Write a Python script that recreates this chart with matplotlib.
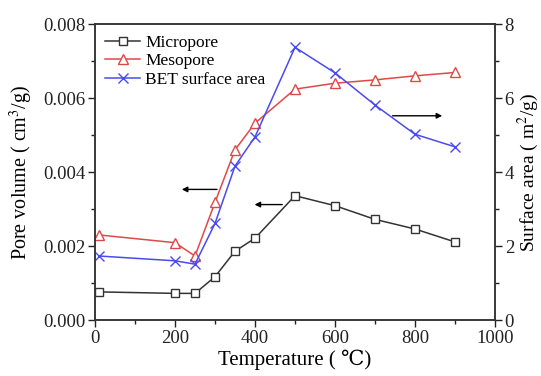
import matplotlib
matplotlib.use("Agg")
import matplotlib.pyplot as plt
from matplotlib.ticker import MultipleLocator

plt.rcParams['font.family'] = ['Liberation Serif', 'DejaVu Serif']
plt.rcParams['mathtext.fontset'] = 'stix'

temps = [10, 200, 250, 300, 350, 400, 500, 600, 700, 800, 900]
micropore = [0.00076, 0.00072, 0.00072, 0.00117, 0.00186, 0.00221, 0.00336, 0.00309, 0.00272, 0.00246, 0.00211]
mesopore = [0.00230, 0.00209, 0.00173, 0.00318, 0.00460, 0.00532, 0.00624, 0.00640, 0.00649, 0.00660, 0.00669]
bet = [1.73, 1.60, 1.51, 2.61, 4.16, 4.95, 7.37, 6.68, 5.81, 5.02, 4.68]

fig = plt.figure(figsize=(5.41, 3.76), dpi=100)
ax = fig.add_axes([0.1756, 0.1489, 0.7394, 0.7872])
ax2 = ax.twinx()

black = '#333333'
red = '#e04848'
blue = '#4a4af0'

l1, = ax.plot(temps, micropore, color=black, lw=1.1, marker='s', ms=5.5, mfc='white', mec=black, mew=1.0, label='Micropore')
l2, = ax.plot(temps, mesopore, color=red, lw=1.1, marker='^', ms=6.5, mfc='white', mec=red, mew=1.0, label='Mesopore')
l3, = ax2.plot(temps, bet, color=blue, lw=1.1, marker='x', ms=7.5, mec=blue, mew=1.0, label='BET surface area')

ax.set_xlim(0, 1000)
ax.set_ylim(0, 0.008)
ax2.set_ylim(0, 8)
ax.xaxis.set_major_locator(MultipleLocator(200))
ax.xaxis.set_minor_locator(MultipleLocator(100))
ax.yaxis.set_major_locator(MultipleLocator(0.002))
ax.yaxis.set_minor_locator(MultipleLocator(0.001))
ax2.yaxis.set_major_locator(MultipleLocator(2))
ax2.yaxis.set_minor_locator(MultipleLocator(1))
ax.yaxis.set_major_formatter(matplotlib.ticker.FormatStrFormatter('%.3f'))

for a in (ax, ax2):
    a.tick_params(which='both', direction='out', labelsize=13.5, colors='#222222')
    a.tick_params(which='major', length=5, width=1, pad=2)
    a.tick_params(which='minor', length=3, width=1)
    for s in a.spines.values():
        s.set_linewidth(1.1)
        s.set_color('#333333')
ax.tick_params(axis='x', top=False)

ax.set_xlabel('Temperature ( \u2103)', fontsize=15, labelpad=2)
ax.set_ylabel('Pore volume ( cm$^3$/g)', fontsize=14.5, labelpad=6)
ax2.set_ylabel('Surface area ( m$^2$/g)', fontsize=14, labelpad=1)

arrow = dict(arrowstyle='-|>', color='black', lw=1.0, mutation_scale=8)
ax.annotate('', xy=(210, 0.00353), xytext=(312, 0.00353), arrowprops=arrow)
ax.annotate('', xy=(392, 0.00312), xytext=(475, 0.00312), arrowprops=arrow)
ax2.annotate('', xy=(875, 5.52), xytext=(737, 5.52), arrowprops=arrow)

leg = ax.legend(handles=[l1, l2, l3], loc='upper left', frameon=False, fontsize=12.5,
                handlelength=2.0, handletextpad=0.3, labelspacing=0.15,
                borderaxespad=0.2, bbox_to_anchor=(0.0, 1.0))

fig.savefig('out.png', dpi=100)
